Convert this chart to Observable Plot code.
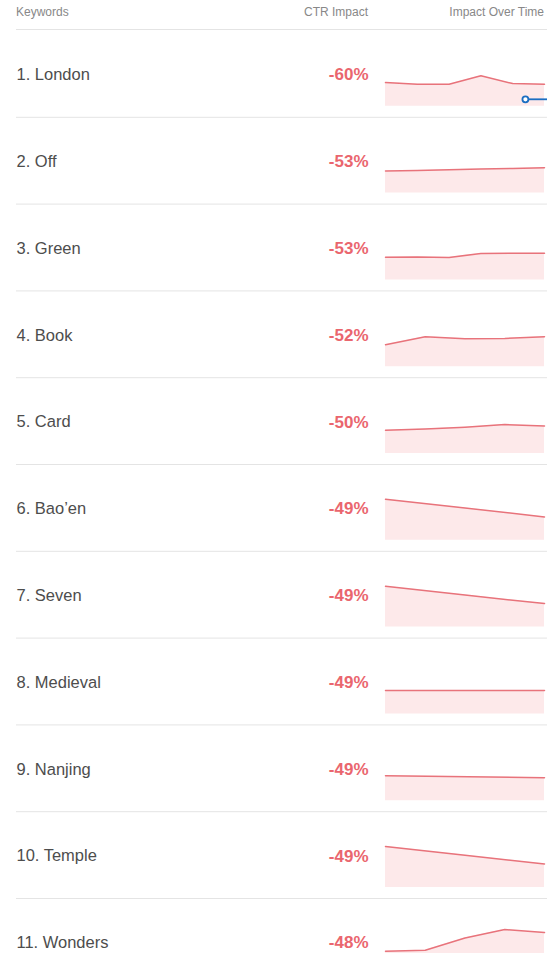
<!DOCTYPE html>
<html>
<head>
<meta charset="utf-8">
<script src="https://cdn.jsdelivr.net/npm/d3@7"></script>
<script src="https://cdn.jsdelivr.net/npm/@observablehq/plot@0.6"></script>
<style>
  html, body { margin: 0; padding: 0; background: #fff; overflow: hidden; }
  body { width: 547px; font-family: "Liberation Sans", Arial, sans-serif; }
  .header { position: relative; height: 29px; margin-left: 16px; border-bottom: 1px solid #e4e4e4; font-size: 12px; color: #888; }
  .header span { position: absolute; top: 0; line-height: 24px; white-space: nowrap; }
</style>
</head>
<body>
<div class="header">
  <span style="left:0">Keywords</span>
  <span style="right:179px">CTR Impact</span>
  <span style="right:3px">Impact Over Time</span>
</div>
<div id="chart"></div>
<script>
// Keywords and their CTR impact
const keywords = ["London", "Off", "Green", "Book", "Card", "Bao’en", "Seven", "Medieval", "Nanjing", "Temple", "Wonders"];
const ctrImpact = [-60, -53, -53, -52, -50, -49, -49, -49, -49, -49, -48];

// Sparkline samples (relative time 0..1) and impact level (arbitrary units above baseline)
const sparkTimes = [
  [0, 0.2, 0.4, 0.6, 0.8, 1],
  [0, 0.2, 0.4, 0.6, 0.8, 1],
  [0, 0.2, 0.4, 0.6, 0.8, 1],
  [0, 0.25, 0.5, 0.75, 1],
  [0, 0.25, 0.5, 0.75, 1],
  [0, 0.5, 1],
  [0, 0.5, 1],
  [0, 1],
  [0, 1],
  [0, 0.5, 1],
  [0, 0.25, 0.5, 0.75, 1]
];
const sparkValues = [
  [23.7, 22, 22, 30.5, 22.7, 22],
  [22, 22.7, 23.3, 24, 24.6, 25.3],
  [22.7, 23, 22.5, 26.5, 26.7, 26.7],
  [22, 30, 28, 28.3, 30],
  [23.2, 24.5, 26.3, 28.9, 27.5],
  [41, 32.3, 23.3],
  [40.8, 32, 23.5],
  [23.4, 23.4],
  [25, 23],
  [41, 32.3, 23.5],
  [23, 24, 36.3, 44.7, 41.7]
];

// Blue hover marker seen on the first row
const markerKeyword = ["London"];
const markerTime = [0.88];
const markerValue = [7];

const rows = keywords.map((kw, i) => ({kw, rank: i + 1, ctr: ctrImpact[i]}));
const series = keywords.flatMap((kw, i) => sparkTimes[i].map((t, j) => ({kw, t, v: sparkValues[i][j]})));
const marker = markerKeyword.map((kw, i) => ({kw, t: markerTime[i], v: markerValue[i]}));

const rowH = 86.8;
const chart = Plot.plot({
  width: 547,
  height: rowH * keywords.length,
  marginLeft: 385,
  marginRight: 3,
  marginTop: 0,
  marginBottom: 0,
  style: {fontFamily: "Liberation Sans, Arial, sans-serif", background: "white"},
  x: {domain: [0, 1], axis: null},
  y: {domain: [0, 60], axis: null, insetBottom: 11, insetTop: rowH - 11 - 60},
  fy: {domain: keywords, padding: 0, axis: null, round: false},
  marks: [
    Plot.areaY(series, {fy: "kw", x: "t", y: "v", fill: "#fde9ea"}),
    Plot.lineY(series, {fy: "kw", x: "t", y: "v", stroke: "#e8737b", strokeWidth: 1.5}),
    Plot.ruleY(rows, {fy: "kw", y: 0, dy: 11, insetLeft: -369, insetRight: -3, stroke: "#e4e4e4", strokeWidth: 1}),
    Plot.text(rows, {fy: "kw", text: d => `${d.rank}. ${d.kw}`, frameAnchor: "left", textAnchor: "start", dx: -369, dy: 1, fontSize: 16.5, fill: "#4d4d4d"}),
    Plot.text(rows, {fy: "kw", text: d => `${d.ctr}%`, frameAnchor: "left", textAnchor: "end", dx: -17, dy: 1, fontSize: 17, fontWeight: "bold", fill: "#ea666e", style: "letter-spacing:0.8px"}),
    Plot.ruleY(marker, {fy: "kw", y: "v", x1: "t", x2: 1, insetRight: -3, stroke: "#1b6ec2", strokeWidth: 1.8}),
    Plot.dot(marker, {fy: "kw", x: "t", y: "v", r: 3, stroke: "#1b6ec2", strokeWidth: 1.8, fill: "white"})
  ]
});
document.getElementById("chart").appendChild(chart);
</script>
</body>
</html>
